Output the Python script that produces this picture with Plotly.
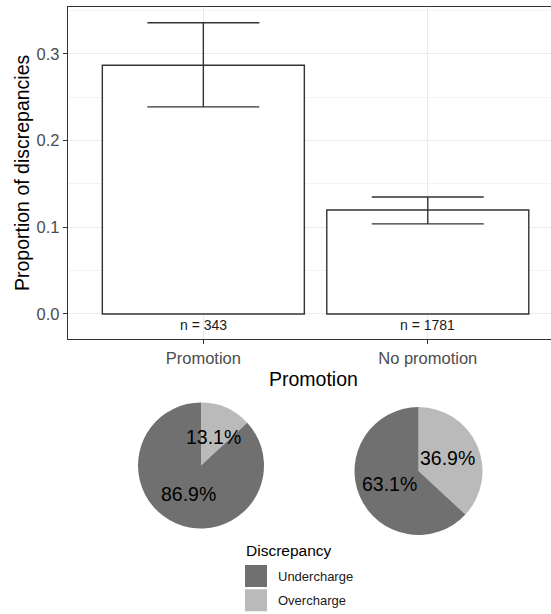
import math
import plotly.graph_objects as go

# ---- data ----
categories = ["Promotion", "No promotion"]
proportions = [0.287, 0.120]
ci_lower = [0.239, 0.104]
ci_upper = [0.336, 0.135]
n_counts = [343, 1781]

discrepancy_types = ["Undercharge", "Overcharge"]
discrepancy_colors = ["#707070", "#BABABA"]
undercharge_pct = [86.9, 63.1]
overcharge_pct = [13.1, 36.9]

y_ticks = [0.0, 0.1, 0.2, 0.3]

# ---- page geometry (pixels) ----
W, H = 551, 614


def px(x):
    return x / W


def py(y):
    return 1 - y / H


FONT = "Liberation Sans, Arial, sans-serif"
fig = go.Figure()

xs = list(range(len(categories)))

fig.add_trace(go.Bar(
    x=xs, y=proportions, width=0.9,
    marker=dict(color="white", line=dict(color="#333333", width=1.4)),
    error_y=dict(
        type="data",
        array=[u - p for u, p in zip(ci_upper, proportions)],
        arrayminus=[p - l for p, l in zip(proportions, ci_lower)],
        color="#333333", thickness=1.4, width=56,
    ),
    showlegend=False, hoverinfo="skip",
    xaxis="x", yaxis="y",
))

annotations = []
for i, n in enumerate(n_counts):
    annotations.append(dict(
        x=i, y=-0.0127, xref="x", yref="y", text=f"n = {n}",
        showarrow=False, font=dict(size=14, color="#1A1A1A", family=FONT),
        xanchor="center", yanchor="middle",
    ))

# axis titles
annotations.append(dict(
    x=px(313), y=py(379), xref="paper", yref="paper", text="Promotion",
    showarrow=False, font=dict(size=19.5, color="black", family=FONT),
    xanchor="center", yanchor="middle",
))
annotations.append(dict(
    x=px(22), y=py(173), xref="paper", yref="paper",
    text="Proportion of discrepancies", textangle=-90,
    showarrow=False, font=dict(size=19.5, color="black", family=FONT),
    xanchor="center", yanchor="middle",
))

# ---- pies ----
pie_geom = [(201, 465.5, 63), (418.5, 471, 64)]
for k, (cx, cy, r) in enumerate(pie_geom):
    vals = [overcharge_pct[k], undercharge_pct[k]]
    fig.add_trace(go.Pie(
        values=vals,
        labels=[discrepancy_types[1], discrepancy_types[0]],
        marker=dict(colors=[discrepancy_colors[1], discrepancy_colors[0]],
                    line=dict(width=0)),
        direction="clockwise", sort=False, rotation=0,
        textinfo="none", hoverinfo="skip", showlegend=False,
        domain=dict(x=[px(cx - r), px(cx + r)], y=[py(cy + r), py(cy - r)]),
    ))
    # percentage labels at half radius along each slice's mid-angle
    start = 0.0
    for v in vals:
        mid = (start + v / 2) / 100 * 2 * math.pi
        lx = cx + 0.5 * r * math.sin(mid)
        ly = cy - 0.5 * r * math.cos(mid)
        annotations.append(dict(
            x=px(lx), y=py(ly), xref="paper", yref="paper",
            text=f"{v:.1f}%", showarrow=False,
            font=dict(size=19.5, color="black", family=FONT),
            xanchor="center", yanchor="middle",
        ))
        start += v

# ---- legend drawn as swatches ----
shapes = []
annotations.append(dict(
    x=px(244), y=py(550), xref="paper", yref="paper", text="Discrepancy",
    showarrow=False, font=dict(size=15.5, color="black", family=FONT),
    xanchor="left", yanchor="middle",
))
for j, (name, col) in enumerate(zip(discrepancy_types, discrepancy_colors)):
    top = 565 + j * 24.3
    shapes.append(dict(
        type="rect", xref="paper", yref="paper",
        x0=px(245), x1=px(267), y0=py(top + 22), y1=py(top),
        fillcolor=col, line=dict(width=0),
    ))
    annotations.append(dict(
        x=px(275.5), y=py(top + 11.5), xref="paper", yref="paper", text=name,
        showarrow=False, font=dict(size=13, color="#1A1A1A", family=FONT),
        xanchor="left", yanchor="middle",
    ))

fig.update_layout(
    width=W, height=H,
    margin=dict(l=0, r=0, t=0, b=0),
    paper_bgcolor="white", plot_bgcolor="white",
    font=dict(family=FONT),
    xaxis=dict(
        domain=[px(68), 1], range=[-0.603, 1.549],
        tickvals=xs, ticktext=categories,
        showline=True, mirror=True, linecolor="#333333", linewidth=1.3,
        showgrid=True, gridcolor="#EBEBEB", gridwidth=1,
        ticks="outside", ticklen=4, tickcolor="#333333", tickwidth=1,
        tickfont=dict(size=16.5, color="#4D4D4D", family=FONT),
        zeroline=False, automargin=False, fixedrange=True,
    ),
    yaxis=dict(
        domain=[py(339), py(7)], range=[-0.02885, 0.3542],
        tickvals=y_ticks, tickformat=".1f",
        showline=True, mirror=False, linecolor="#333333", linewidth=1.3,
        showgrid=True, gridcolor="#EBEBEB", gridwidth=1,
        minor=dict(dtick=0.05, showgrid=True, gridcolor="#F3F3F3", gridwidth=0.6),
        ticks="outside", ticklen=4, tickcolor="#333333", tickwidth=1,
        tickfont=dict(size=16.5, color="#4D4D4D", family=FONT),
        zeroline=False, automargin=False, fixedrange=True,
    ),
    annotations=annotations,
    shapes=shapes,
)

fig.write_html("out.html")
